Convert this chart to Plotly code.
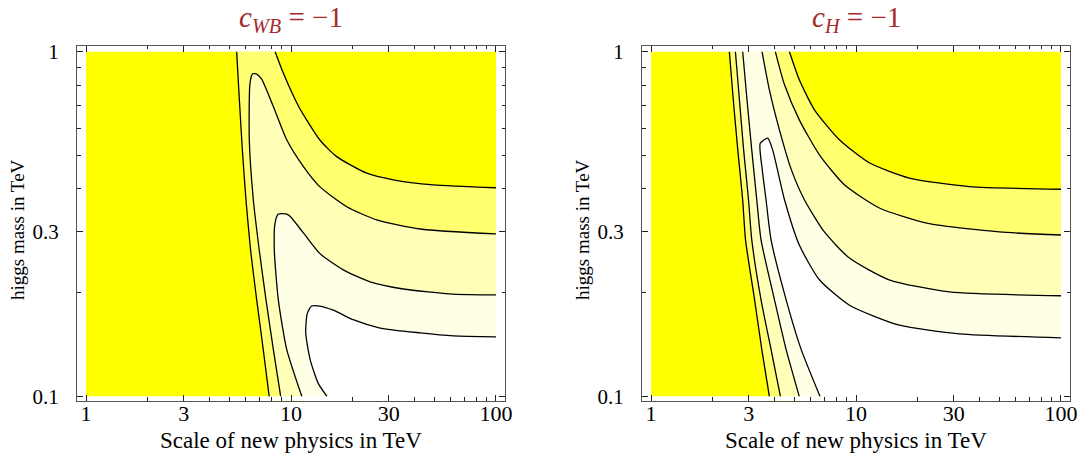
import plotly.graph_objects as go

# ---------------- axis data ----------------
XTICKS = [1, 3, 10, 30, 100]
XTICKTEXT = ["1", "3", "10", "30", "100"]
XMINOR = [2, 4, 5, 6, 7, 8, 9, 20, 40, 50, 60, 70, 80, 90]
YTICKS = [0.1, 0.3, 1]
YTICKTEXT = ["0.1", "0.3", "1"]
YMINOR = [0.2, 0.4, 0.5, 0.6, 0.7, 0.8, 0.9]
X_MIN, X_MAX = 1, 100
Y_MIN, Y_MAX = 0.1, 1

LEVEL_COLORS = ["#FFFF00", "#FFFF70", "#FFFFB8", "#FFFFE6", "#FFFFFF"]

TITLES = ["<i>c</i><sub><i>WB</i></sub> = \u22121", "<i>c</i><sub><i>H</i></sub> = \u22121"]
XLABEL = "Scale of new physics in TeV"
YLABEL = "higgs mass in TeV"

# ---------------- left panel: c_WB = -1 (contours) ----------------
wb_a_x = [5.43, 5.60, 5.79, 6.03, 6.35, 6.80, 7.32, 7.83]
wb_a_y = [1.0, 0.724, 0.519, 0.372, 0.266, 0.191, 0.137, 0.1]

wb_b_x = [8.36, 9.17, 10.9, 13.8, 16.7, 23.4, 31.5, 49.4, 100]
wb_b_y = [1.0, 0.866, 0.693, 0.555, 0.496, 0.444, 0.425, 0.411, 0.403]

wb_c_x = [8.91, 8.20, 7.55, 7.00, 6.55, 6.26, 6.31, 6.50, 6.80, 7.19, 8.20, 9.53, 11.5, 13.8, 18.7, 26.2, 42.6, 100]
wb_c_y = [0.1, 0.137, 0.191, 0.266, 0.372, 0.555, 0.810, 0.862, 0.860, 0.832, 0.693, 0.555, 0.464, 0.406, 0.355, 0.325, 0.306, 0.296]

wb_d_x = [11.3, 9.53, 8.67, 8.29, 8.36, 8.67, 9.53, 9.89, 11.5, 13.8, 18.0, 24.3, 35.3, 61.9, 100]
wb_d_y = [0.1, 0.137, 0.191, 0.266, 0.318, 0.338, 0.338, 0.333, 0.298, 0.260, 0.233, 0.215, 0.205, 0.198, 0.197]

wb_e_x = [15.0, 13.6, 12.4, 11.8, 12.0, 12.6, 13.8, 16.1, 20.1, 27.2, 42.6, 61.9, 100]
wb_e_y = [0.1, 0.109, 0.128, 0.153, 0.174, 0.183, 0.183, 0.178, 0.167, 0.158, 0.153, 0.150, 0.149]

# ---------------- right panel: c_H = -1 ----------------
h_r1_x = [2.41, 2.52, 2.65, 2.80, 2.89, 3.20, 3.47, 3.78]
h_r1_y = [1.0, 0.724, 0.519, 0.372, 0.285, 0.191, 0.137, 0.1]

h_r2_x = [2.58, 2.70, 2.83, 2.99, 3.10, 3.44, 3.85, 4.28]
h_r2_y = [1.0, 0.724, 0.519, 0.372, 0.285, 0.191, 0.137, 0.1]

h_r3_x = [2.80, 2.94, 3.10, 3.28, 3.44, 4.00, 4.56, 5.29]
h_r3_y = [1.0, 0.724, 0.519, 0.372, 0.285, 0.191, 0.137, 0.1]

h_r4_x = [3.48, 3.78, 4.23, 4.84, 5.60, 7.01, 9.29, 14.5, 28.6, 100]
h_r4_y = [1.0, 0.774, 0.593, 0.454, 0.372, 0.300, 0.252, 0.218, 0.201, 0.196]

h_r5_x = [4.04, 4.48, 5.29, 6.63, 8.78, 13.0, 22.8, 50.1, 100]
h_r5_y = [1.0, 0.801, 0.634, 0.502, 0.411, 0.352, 0.317, 0.300, 0.294]

h_r6_x = [4.73, 5.29, 6.27, 8.30, 11.6, 18.2, 35.7, 100]
h_r6_y = [1.0, 0.828, 0.678, 0.555, 0.476, 0.430, 0.406, 0.399]

h_w_x = [6.68, 5.40, 4.56, 3.85, 3.64, 3.49, 3.41, 3.71, 3.92, 4.48, 5.29, 6.63, 9.29, 16.3, 31.9, 100]
h_w_y = [0.1, 0.137, 0.191, 0.285, 0.372, 0.454, 0.542, 0.561, 0.519, 0.372, 0.275, 0.218, 0.184, 0.161, 0.152, 0.148]

# ---------------- figure ----------------
W, H = 1081, 456
FRAME_X = [(77, 505), (642, 1070)]
FRAME_Y = (45.7, 400.7)
XR = [-0.044, 2.044]
YR = [-1.012, 0.017]
FONT = "Liberation Serif"
LINE_SMOOTH = 0.6
EXT = 1.3  # how far (factor) polygon helpers reach outside the data rectangle (hidden by masks)

fig = go.Figure()


def rev(a):
    return list(reversed(a))


def ext(x, y):
    """point just outside the data rectangle, continuing a contour end that lies on a border"""
    if y >= Y_MAX:
        return x, Y_MAX * EXT
    if y <= Y_MIN:
        return x, Y_MIN / EXT
    return X_MAX * EXT, y


def region(*paths):
    """join oriented contour paths into one closed polygon through the outside"""
    xs, ys = [], []
    for px, py in paths:
        sx, sy = ext(px[0], py[0])
        exx, eyy = ext(px[-1], py[-1])
        xs += [sx] + list(px) + [exx]
        ys += [sy] + list(py) + [eyy]
    xs.append(X_MAX * EXT)
    ys.append(Y_MIN / EXT)
    return xs, ys


def add_fill(xy, color, ax):
    xs, ys = xy
    fig.add_trace(go.Scatter(x=xs, y=ys, mode="lines", fill="toself", fillcolor=color,
                             line=dict(width=0, color=color, shape="spline", smoothing=LINE_SMOOTH),
                             xaxis=ax[0], yaxis=ax[1], hoverinfo="skip", showlegend=False))


def add_line(xs, ys, ax):
    fig.add_trace(go.Scatter(x=xs, y=ys, mode="lines",
                             line=dict(width=1.3, color="black", shape="spline", smoothing=LINE_SMOOTH),
                             xaxis=ax[0], yaxis=ax[1], hoverinfo="skip", showlegend=False))


def add_mask(ax):
    # white padding between data rectangle and frame
    lo, hi = 0.1, 1000
    ylo, yhi = 0.01, 10
    strips = [([lo, X_MIN, X_MIN, lo], [ylo, ylo, yhi, yhi]),
              ([X_MAX, hi, hi, X_MAX], [ylo, ylo, yhi, yhi]),
              ([lo, hi, hi, lo], [ylo, ylo, Y_MIN, Y_MIN]),
              ([lo, hi, hi, lo], [Y_MAX, Y_MAX, yhi, yhi])]
    for sx, sy in strips:
        fig.add_trace(go.Scatter(x=sx, y=sy, mode="lines", fill="toself", fillcolor="white",
                                 line=dict(width=0, color="white"), xaxis=ax[0], yaxis=ax[1],
                                 hoverinfo="skip", showlegend=False))


rect_x = [X_MIN, X_MAX, X_MAX, X_MIN]
rect_y = [Y_MIN, Y_MIN, Y_MAX, Y_MAX]

# left panel
axL = ("x", "y")
fig.add_trace(go.Scatter(x=rect_x, y=rect_y, mode="lines", fill="toself", fillcolor=LEVEL_COLORS[0],
                         line=dict(width=0), xaxis="x", yaxis="y", hoverinfo="skip", showlegend=False))
add_fill(region((rev(wb_a_x), rev(wb_a_y)), (wb_b_x, wb_b_y)), LEVEL_COLORS[1], axL)
add_fill(region((wb_c_x, wb_c_y)), LEVEL_COLORS[2], axL)
add_fill(region((wb_d_x, wb_d_y)), LEVEL_COLORS[3], axL)
add_fill(region((wb_e_x, wb_e_y)), LEVEL_COLORS[4], axL)
for lx, ly in [(wb_a_x, wb_a_y), (wb_b_x, wb_b_y), (wb_c_x, wb_c_y), (wb_d_x, wb_d_y), (wb_e_x, wb_e_y)]:
    add_line(lx, ly, axL)
add_mask(axL)

# right panel
axR = ("x2", "y2")
fig.add_trace(go.Scatter(x=rect_x, y=rect_y, mode="lines", fill="toself", fillcolor=LEVEL_COLORS[0],
                         line=dict(width=0), xaxis="x2", yaxis="y2", hoverinfo="skip", showlegend=False))
add_fill(region((rev(h_r1_x), rev(h_r1_y)), (h_r6_x, h_r6_y)), LEVEL_COLORS[1], axR)
add_fill(region((rev(h_r2_x), rev(h_r2_y)), (h_r5_x, h_r5_y)), LEVEL_COLORS[2], axR)
add_fill(region((rev(h_r3_x), rev(h_r3_y)), (h_r4_x, h_r4_y)), LEVEL_COLORS[3], axR)
add_fill(region((h_w_x, h_w_y)), LEVEL_COLORS[4], axR)
for lx, ly in [(h_r1_x, h_r1_y), (h_r2_x, h_r2_y), (h_r3_x, h_r3_y), (h_r4_x, h_r4_y),
               (h_r5_x, h_r5_y), (h_r6_x, h_r6_y), (h_w_x, h_w_y)]:
    add_line(lx, ly, axR)
add_mask(axR)

ydom = [1 - FRAME_Y[1] / H, 1 - FRAME_Y[0] / H]
common_x = dict(type="log", range=XR, tickmode="array", tickvals=XTICKS, ticktext=XTICKTEXT,
                ticks="inside", ticklen=6, tickwidth=1, tickcolor="#222", mirror="ticks",
                showline=True, linecolor="#555", linewidth=1, showgrid=False, zeroline=False,
                automargin=False, ticklabelstandoff=-7,
                minor=dict(tickvals=XMINOR, ticks="inside", ticklen=3.5, tickwidth=1, tickcolor="#222", showgrid=False),
                tickfont=dict(family=FONT, size=22, color="black"), fixedrange=True)
common_y = dict(type="log", range=YR, tickmode="array", tickvals=YTICKS, ticktext=YTICKTEXT,
                ticks="inside", ticklen=6, tickwidth=1, tickcolor="#222", mirror="ticks",
                showline=True, linecolor="#555", linewidth=1, showgrid=False, zeroline=False,
                automargin=False, ticklabelstandoff=13,
                minor=dict(tickvals=YMINOR, ticks="inside", ticklen=3.5, tickwidth=1, tickcolor="#222", showgrid=False),
                tickfont=dict(family=FONT, size=21, color="black"), domain=ydom, fixedrange=True)

fig.update_layout(
    width=W, height=H, margin=dict(l=0, r=0, t=0, b=0, autoexpand=False),
    paper_bgcolor="white", plot_bgcolor="white", showlegend=False,
    xaxis=dict(common_x, domain=[FRAME_X[0][0] / W, FRAME_X[0][1] / W], anchor="y"),
    yaxis=dict(common_y, anchor="x"),
    xaxis2=dict(common_x, domain=[FRAME_X[1][0] / W, FRAME_X[1][1] / W], anchor="y2"),
    yaxis2=dict(common_y, anchor="x2"),
)

annos = []
for i, (fx0, fx1) in enumerate(FRAME_X):
    cx = (fx0 + fx1) / 2 / W
    annos.append(dict(text=TITLES[i], x=cx, y=1.0, xref="paper", yref="paper",
                      showarrow=False, xanchor="center", yanchor="top", borderpad=0,
                      font=dict(family=FONT, size=29, color="#A52A2A")))
    annos.append(dict(text=XLABEL, x=cx, y=1 - 440 / H, xref="paper", yref="paper",
                      showarrow=False, xanchor="center", yanchor="middle",
                      font=dict(family=FONT, size=23, color="black")))
    annos.append(dict(text=YLABEL, x=(fx0 - 60) / W, y=1 - 230 / H, xref="paper", yref="paper",
                      showarrow=False, xanchor="center", yanchor="middle", textangle=-90,
                      font=dict(family=FONT, size=19, color="black")))
fig.update_layout(annotations=annos)

fig.write_html("out.html", config={"displayModeBar": False, "staticPlot": True},
               post_script="document.body.style.margin='0';document.body.style.overflow='hidden';")
